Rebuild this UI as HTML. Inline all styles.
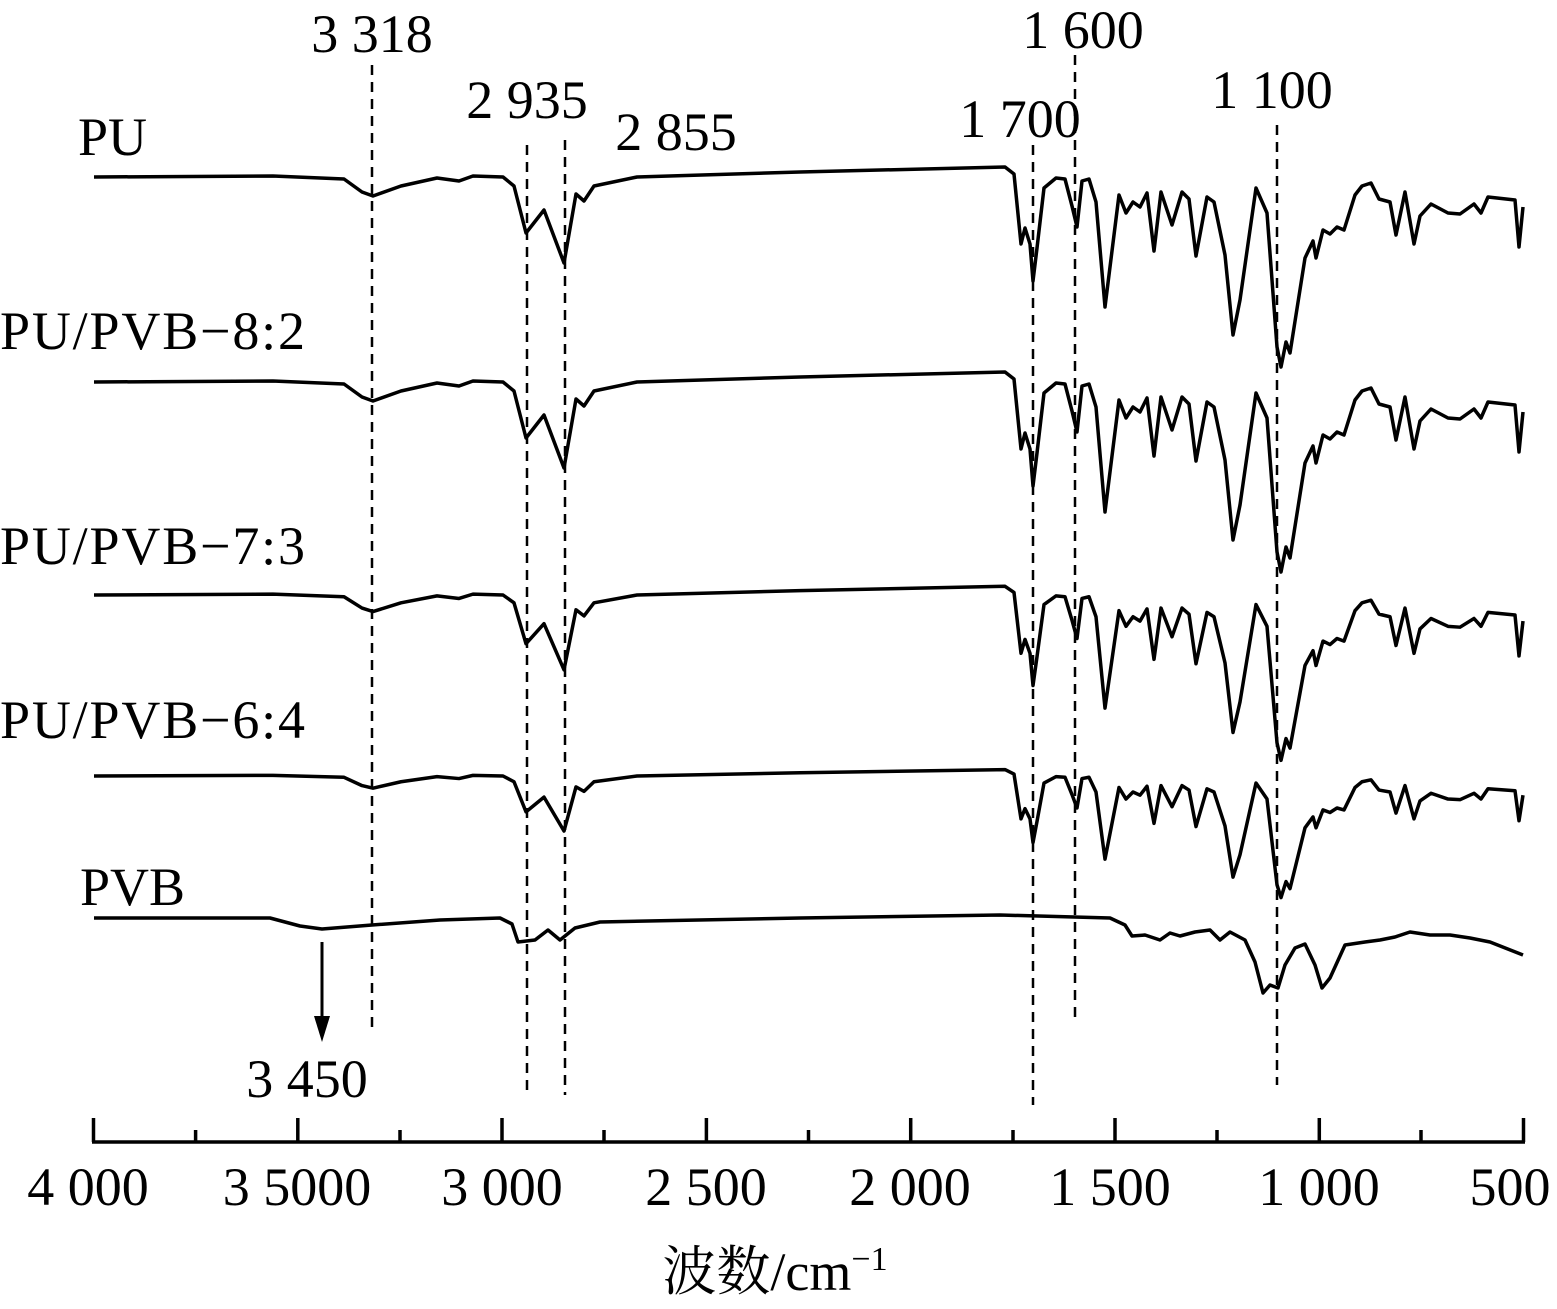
<!DOCTYPE html>
<html><head><meta charset="utf-8"><style>
html,body{margin:0;padding:0;background:#fff}
svg{display:block}
text{font-family:"Liberation Serif","Noto Serif CJK SC",serif;font-size:54px;fill:#000}
</style></head><body>
<svg width="1557" height="1309" viewBox="0 0 1557 1309" xmlns="http://www.w3.org/2000/svg">
<defs>
<path id="pu" d="M94,0 L273,-1 L344,2 L362,15 L373,19 L401,9 L437,1 L459,4 L473,-1 L503,0 L514,9 L526,56 L544,33 L564,86 L576,17 L584,24 L594,9 L637,0 L800,-5 L1005,-10 L1014,-3 L1021,67 L1025,51 L1030,67 L1033,104 L1037,71 L1044,11 L1056,1 L1065,2 L1072,29 L1077,50 L1082,4 L1089,2 L1096,25 L1105,130 L1119,18 L1126,36 L1133,25 L1140,30 L1147,16 L1154,74 L1161,15 L1172,48 L1182,15 L1189,22 L1196,79 L1207,20 L1214,25 L1225,78 L1233,158 L1240,123 L1256,11 L1267,36 L1277,170 L1281,190 L1286,165 L1290,176 L1305,81 L1313,64 L1316,81 L1323,53 L1330,57 L1337,50 L1344,53 L1355,18 L1362,9 L1371,6 L1379,22 L1390,25 L1396,58 L1405,15 L1414,67 L1420,39 L1431,27 L1448,36 L1460,37 L1474,27 L1481,36 L1488,20 L1515,23 L1519,70 L1523,30" fill="none" stroke="#000" stroke-width="3.5" vector-effect="non-scaling-stroke" stroke-linejoin="round"/>
</defs>
<g stroke="#000" stroke-width="2.5" stroke-dasharray="10,7" fill="none">
<line x1="372" y1="65" x2="372" y2="1030"/>
<line x1="527" y1="145" x2="527" y2="1090"/>
<line x1="565" y1="140" x2="565" y2="1095"/>
<line x1="1033" y1="145" x2="1033" y2="1105"/>
<line x1="1075" y1="55" x2="1075" y2="1020"/>
<line x1="1277" y1="125" x2="1277" y2="1085"/>
</g>
<use href="#pu" transform="translate(0,177)"/>
<use href="#pu" transform="translate(0,382)"/>
<use href="#pu" transform="translate(0,595) scale(1,0.87)"/>
<use href="#pu" transform="translate(0,776) scale(1,0.64)"/>
<path d="M94,918 L270,918 L300,926 L322,929 L372,925 L440,920 L500,918 L512,924 L518,942 L535,940 L548,930 L560,940 L575,928 L600,922 L800,918 L1000,915 L1110,918 L1125,925 L1132,936 L1145,935 L1160,940 L1170,933 L1180,936 L1195,932 L1210,930 L1220,940 L1230,932 L1245,940 L1255,962 L1263,993 L1270,985 L1278,988 L1285,965 L1295,948 L1305,944 L1315,965 L1322,988 L1330,978 L1345,945 L1365,942 L1380,940 L1395,937 L1410,932 L1430,935 L1450,935 L1470,938 L1490,942 L1523,955" fill="none" stroke="#000" stroke-width="3.5" stroke-linejoin="round"/>
<line x1="322" y1="942" x2="322" y2="1022" stroke="#000" stroke-width="3"/>
<polygon points="314,1016 330,1016 322,1042" fill="#000"/>
<g stroke="#000" stroke-width="3.5">
<line x1="92" y1="1142" x2="1525" y2="1142"/>
<line x1="93.5" y1="1118" x2="93.5" y2="1142"/><line x1="297.8" y1="1118" x2="297.8" y2="1142"/><line x1="502" y1="1118" x2="502" y2="1142"/><line x1="706.4" y1="1118" x2="706.4" y2="1142"/><line x1="910.7" y1="1118" x2="910.7" y2="1142"/><line x1="1115" y1="1118" x2="1115" y2="1142"/><line x1="1319.3" y1="1118" x2="1319.3" y2="1142"/><line x1="1523.5" y1="1118" x2="1523.5" y2="1142"/>
<line x1="195.6" y1="1130" x2="195.6" y2="1142"/><line x1="400" y1="1130" x2="400" y2="1142"/><line x1="604" y1="1130" x2="604" y2="1142"/><line x1="808.5" y1="1130" x2="808.5" y2="1142"/><line x1="1013" y1="1130" x2="1013" y2="1142"/><line x1="1217" y1="1130" x2="1217" y2="1142"/><line x1="1421" y1="1130" x2="1421" y2="1142"/>
</g>
<g text-anchor="middle">
<text x="88" y="1205">4 000</text>
<text x="297" y="1205">3 5000</text>
<text x="502" y="1205">3 000</text>
<text x="706" y="1205">2 500</text>
<text x="910" y="1205">2 000</text>
<text x="1110" y="1205">1 500</text>
<text x="1319" y="1205">1 000</text>
<text x="1510" y="1205">500</text>
<text x="775" y="1290">波数/cm<tspan font-size="34" dy="-20">−1</tspan></text>
<text x="372" y="52">3 318</text>
<text x="527" y="118">2 935</text>
<text x="676" y="150">2 855</text>
<text x="1020" y="137">1 700</text>
<text x="1083" y="48">1 600</text>
<text x="1272" y="108">1 100</text>
<text x="307" y="1097">3 450</text>
</g>
<text x="78" y="155">PU</text>
<text x="0" y="349" textLength="305">PU/PVB−8:2</text>
<text x="0" y="564" textLength="305">PU/PVB−7:3</text>
<text x="0" y="738" textLength="305">PU/PVB−6:4</text>
<text x="80" y="905">PVB</text>
</svg>
</body></html>
